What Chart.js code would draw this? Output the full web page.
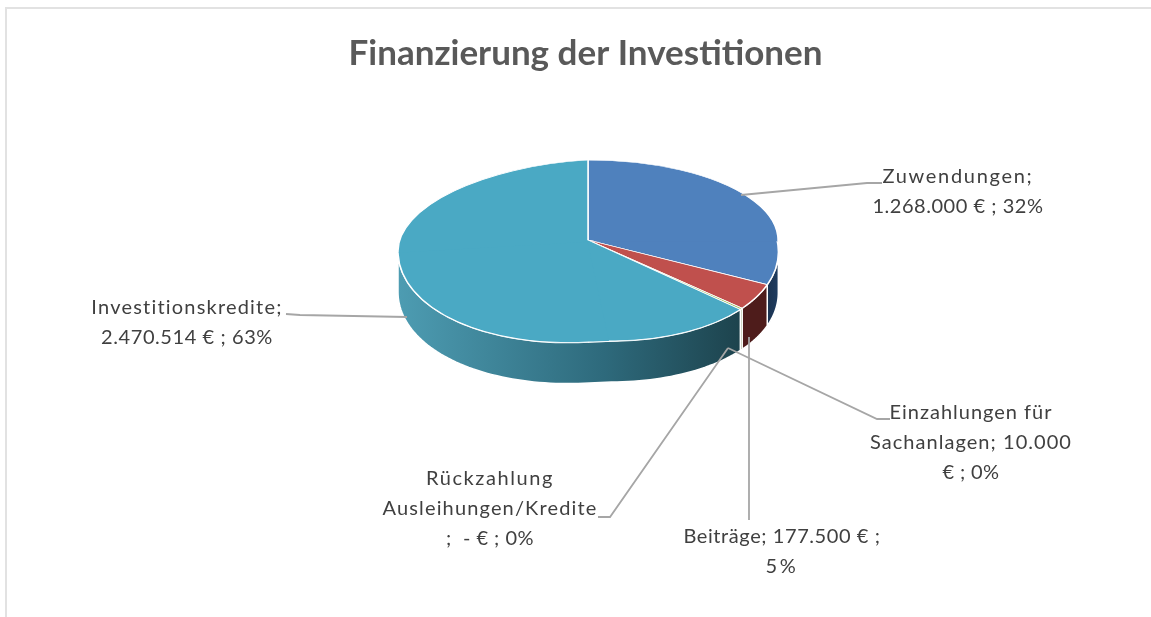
<!DOCTYPE html>
<html>
<head>
<meta charset="utf-8">
<title>Finanzierung der Investitionen</title>
<script src="https://cdn.jsdelivr.net/npm/chart.js@4"></script>
<style>
  html, body { margin: 0; background: #fff; overflow: hidden; }
  #frame { position: absolute; left: 5px; top: 7px; width: 1200px; height: 700px; border: 2px solid #e2e2e2; }
  canvas { position: absolute; left: 0; top: 0; }
</style>
</head>
<body>
<div id="frame"></div>
<canvas id="myChart" width="1151" height="617"></canvas>
<script>
var categories = ['Zuwendungen', 'Beiträge', 'Einzahlungen für Sachanlagen', 'Rückzahlung Ausleihungen/Kredite', 'Investitionskredite'];
var values = [1268000, 177500, 10000, 0, 2470514];
var topColors = ['#4f81bd', '#c0504d', '#9bbb59', '#8064a2', '#4aa9c4'];
var labelLines = [
  ['Zuwendungen;', '1.268.000 € ; 32%'],
  ['Beiträge; 177.500 € ;', '5%'],
  ['Einzahlungen für', 'Sachanlagen; 10.000', '€ ; 0%'],
  ['Rückzahlung', 'Ausleihungen/Kredite', ';  - € ; 0%'],
  ['Investitionskredite;', '2.470.514 € ; 63%']
];

// side wall colours, left to right
var sideColors = [
  ['#1b3350', '#1f3c60'],
  ['#4e1c1b', '#4e1c1b'],
  ['#5a7030', '#5a7030'],
  ['#4a3a60', '#4a3a60'],
  ['#4d9cb2', '#1d434d']
];

// layout of the fake 3D pie
var R = 190, apexX = 588, apexY = 240, depth = 41;
var labelPos = [[958, 177], [782, 537], [971, 413], [490, 479], [187, 308]];
var labelWidths = [[151, 171], [197, 33], [163, 202, 57], [128, 215, 88], [192, 172]];
var lineHeight = 30;
var leaders = [
  [[741, 195], [867, 183], [882, 183]],
  [[749, 337], [749, 520]],
  [[728, 348], [877, 419], [890, 419]],
  [[728, 348], [610, 517], [598, 517]],
  [[407, 317], [300, 315], [286, 314]]
];

// one affine map per part of the circle, that gives the perspective look
var lowerLeft = {
  m: [1, 0, -11 / 190, 102 / 190],
  clip: [[1, 0], [1, R + 5], [-R - 5, R + 5], [-R - 5, 0]]
};
var bottom = {
  m: [1, 0, 0, 102 / 190],
  clip: [[0, 0], [35, R + 5], [0, R + 5]]
};
var lowerRight = {
  m: [0.995, 22 / 190, 0, 101 / 190],
  clip: [[-1, -1], [R + 5, -1], [R + 5, R + 5], [-1, R + 5]]
};
var upperLeft = {
  m: [1, 0, -11 / 190, 80 / 190],
  clip: [[1, 4], [-R - 5, 4], [-R - 5, -R - 5], [1, -R - 5]]
};
var upperRight = {
  m: [1, 0, 0, 80 / 190],
  clip: [[-1, 3], [R + 5, 3], [R + 5, -R - 5], [-1, -R - 5]]
};
var parts = [lowerLeft, bottom, lowerRight, upperLeft, upperRight];

function rimPoint(angle) {
  var lx = R * Math.cos(angle), ly = R * Math.sin(angle);
  var q = ly >= 0 ? (lx >= 0 ? lowerRight : lowerLeft) : (lx >= 0 ? upperRight : upperLeft);
  return [apexX + q.m[0] * lx + q.m[1] * ly, apexY + q.m[2] * lx + q.m[3] * ly];
}

var pie3d = {
  id: 'pie3d',
  beforeDatasetDraw: function (chart, args) {
    var ctx = chart.ctx;
    var meta = chart.getDatasetMeta(args.index);

    // side walls, taken from the angles of the arcs
    meta.data.forEach(function (arc, i) {
      var from = Math.max(arc.startAngle, 0.115);
      var to = Math.min(arc.endAngle, Math.PI);
      if (to <= from || values[i] === 0) return;
      var top = [], steps = 80;
      for (var s = 0; s <= steps; s++) top.push(rimPoint(from + (to - from) * s / steps));
      var xs = top.map(function (p) { return p[0]; });
      var grad = ctx.createLinearGradient(Math.min.apply(null, xs), 0, Math.max.apply(null, xs), 0);
      grad.addColorStop(0, sideColors[i][0]);
      if (i === 4) grad.addColorStop(0.6, '#2e6a7c');
      grad.addColorStop(1, sideColors[i][1]);
      ctx.save();
      ctx.beginPath();
      top.forEach(function (p, k) { k ? ctx.lineTo(p[0], p[1]) : ctx.moveTo(p[0], p[1]); });
      top.slice().reverse().forEach(function (p) { ctx.lineTo(p[0], p[1] + depth); });
      ctx.closePath();
      ctx.fillStyle = grad;
      ctx.fill();
      ctx.strokeStyle = '#fff';
      ctx.lineWidth = 1.5;
      ctx.stroke();
      ctx.restore();
    });

    // the top face, drawn by the library once per part
    var cx = meta.data[0].x, cy = meta.data[0].y;
    parts.forEach(function (q) {
      ctx.save();
      ctx.transform(q.m[0], q.m[2], q.m[1], q.m[3],
        apexX - q.m[0] * cx - q.m[1] * cy, apexY - q.m[2] * cx - q.m[3] * cy);
      ctx.beginPath();
      q.clip.forEach(function (p, k) {
        k ? ctx.lineTo(cx + p[0], cy + p[1]) : ctx.moveTo(cx + p[0], cy + p[1]);
      });
      ctx.closePath();
      ctx.clip();
      meta.controller.draw();
      ctx.restore();
    });
    return false;
  },
  afterDatasetsDraw: function (chart) {
    var ctx = chart.ctx;
    ctx.save();
    ctx.strokeStyle = '#a6a6a6';
    ctx.lineWidth = 1.8;
    leaders.forEach(function (pts) {
      ctx.beginPath();
      pts.forEach(function (p, k) { k ? ctx.lineTo(p[0], p[1]) : ctx.moveTo(p[0], p[1]); });
      ctx.stroke();
    });
    ctx.fillStyle = '#404040';
    ctx.font = '20px Lato';
    ctx.textAlign = 'center';
    ctx.textBaseline = 'middle';
    labelLines.forEach(function (lines, i) {
      lines.forEach(function (txt, k) {
        // spread the letters so the line is as wide as in the original
        ctx.letterSpacing = '0px';
        var extra = (labelWidths[i][k] - ctx.measureText(txt).width) / txt.length;
        ctx.letterSpacing = extra.toFixed(2) + 'px';
        ctx.fillText(txt, labelPos[i][0], labelPos[i][1] + k * lineHeight);
      });
    });
    ctx.restore();
  }
};

var ctx = document.getElementById('myChart').getContext('2d');
var myChart = new Chart(ctx, {
  type: 'pie',
  data: {
    labels: categories,
    datasets: [{
      data: values,
      backgroundColor: topColors,
      borderColor: '#fff',
      borderWidth: 1.5,
      radius: R
    }]
  },
  options: {
    responsive: false,
    animation: false,
    layout: { padding: { left: 20 } },
    plugins: {
      legend: { display: false },
      tooltip: { enabled: false },
      title: {
        display: true,
        text: 'Finanzierung der Investitionen',
        color: '#595959',
        font: { family: 'Lato', size: 35, weight: 'bold' },
        padding: { top: 33, bottom: 20 }
      }
    }
  },
  plugins: [pie3d]
});
</script>
</body>
</html>
